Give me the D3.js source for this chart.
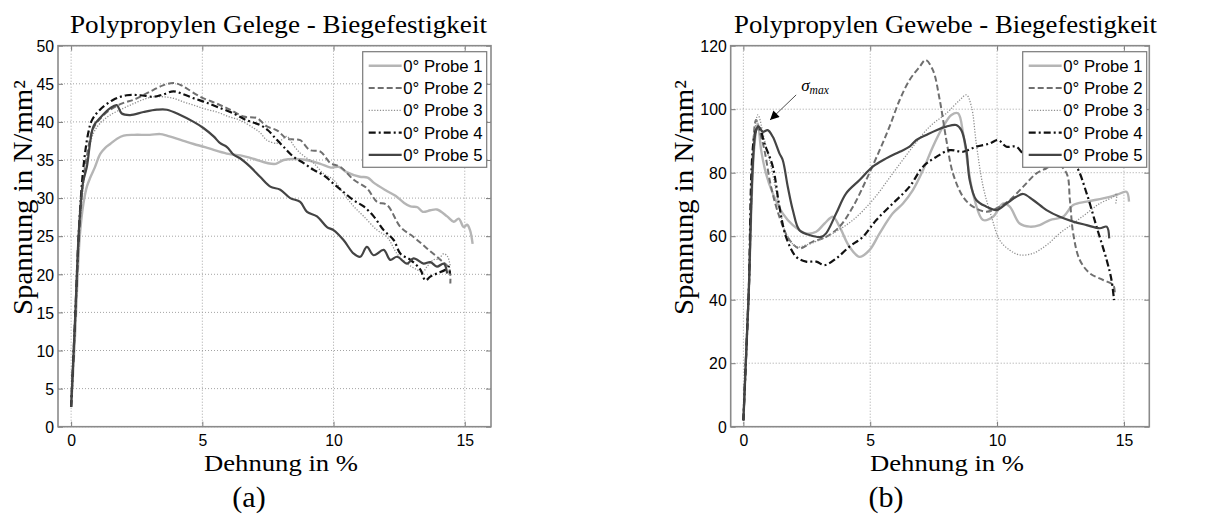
<!DOCTYPE html>
<html><head><meta charset="utf-8">
<script src="https://cdn.jsdelivr.net/npm/d3@7"></script>
<style>body{margin:0;background:#fff}svg{display:block}</style>
</head><body>
<svg id="c" width="1206" height="531"></svg>
<script>
// ---------- data ----------
const xTicks = [0, 5, 10, 15];
const yTicksA = [0, 5, 10, 15, 20, 25, 30, 35, 40, 45, 50];
const yTicksB = [0, 20, 40, 60, 80, 100, 120];
const seriesNames = ["0° Probe 1", "0° Probe 2", "0° Probe 3", "0° Probe 4", "0° Probe 5"];
const titleA = "Polypropylen Gelege - Biegefestigkeit";
const titleB = "Polypropylen Gewebe - Biegefestigkeit";
const xLabel = "Dehnung in %";
const yLabel = "Spannung in N/mm²";
const captions = ["(a)", "(b)"];

const gelege1 = [[0,2.6],[0.15,12],[0.25,20],[0.34,25.4],[0.47,29.3],[0.6,31.5],[0.73,32.7],[0.9,34],[1.11,35.8],[1.3,36.6],[1.49,37.1],[1.75,37.8],[2.0,38.2],[2.4,38.3],[3.0,38.3],[3.4,38.4],[3.65,38.2],[4.2,37.6],[4.67,37.1],[5.1,36.7],[5.56,36.2],[6.0,35.8],[6.45,35.6],[7.0,35.1],[7.47,34.6],[7.8,34.5],[8.1,35.0],[8.74,35.1],[9.1,34.9],[9.5,34.5],[9.9,34.0],[10.2,34.1],[10.5,33.4],[11.0,32.8],[11.3,32.7],[11.54,32.0],[12.0,31.0],[12.36,30.3],[12.68,29.4],[12.93,28.9],[13.2,28.8],[13.4,28.2],[13.69,28.4],[13.94,28.5],[14.33,27.6],[14.58,26.9],[14.77,27.3],[14.96,26.2],[15.09,26.5],[15.2,25.8],[15.3,24.0]];
const gelege2 = [[0,2.6],[0.15,14],[0.3,25],[0.45,32],[0.6,35.5],[0.8,38.8],[1.0,40.0],[1.49,41.6],[2.0,42.5],[2.38,42.9],[2.8,43.6],[3.14,44.2],[3.5,44.8],[3.9,45.1],[4.2,44.8],[4.4,44.4],[4.92,43.3],[5.55,42.4],[6.06,41.6],[6.57,40.7],[7.08,40.5],[7.46,39.4],[7.84,38.9],[8.22,37.8],[8.5,37.7],[8.73,37.6],[9.1,36.3],[9.5,36.1],[9.88,34.6],[10.26,34.1],[10.77,32.4],[11.27,31.3],[11.66,29.5],[12.04,29.1],[12.55,26.2],[13.05,24.9],[13.56,23.4],[14.07,21.9],[14.4,20.8],[14.45,18.8]];
const gelege3 = [[0,2.6],[0.15,13],[0.3,24],[0.45,31],[0.6,35],[0.85,38.5],[1.1,39.8],[1.49,40.9],[2.0,41.8],[2.38,42.4],[2.8,43.0],[3.14,43.3],[3.5,43.3],[3.9,43.1],[4.3,42.6],[4.67,42.2],[5.1,41.7],[5.55,41.3],[6.0,40.7],[6.45,40.2],[6.95,39.2],[7.2,38.6],[7.46,37.6],[7.84,37.2],[8.0,37.6],[8.22,38.1],[8.5,36.8],[8.73,35.9],[9.0,35.2],[9.24,34.6],[9.62,33.2],[10.0,32.4],[10.38,30.6],[10.77,28.9],[11.15,27.6],[11.66,25.8],[12.04,24.9],[12.42,22.7],[12.8,21.4],[13.18,20.6],[13.4,20.3],[13.56,21.0],[13.81,21.9],[14.0,22.0],[14.2,22.7],[14.35,22.3],[14.45,21.0]];
const gelege4 = [[0,2.6],[0.15,14],[0.3,26],[0.47,34.1],[0.65,38.5],[0.79,40.2],[1.1,41.6],[1.61,42.9],[2.12,43.5],[2.63,43.5],[3.14,43.3],[3.5,43.6],[3.9,44.0],[4.3,43.6],[4.67,43.1],[5.1,42.6],[5.55,42.0],[6.19,41.1],[6.7,40.2],[7.2,39.6],[7.5,38.9],[7.72,38.1],[8.1,36.7],[8.48,35.4],[8.86,34.6],[9.24,33.7],[9.62,33.0],[10.0,31.9],[10.38,30.8],[10.77,29.7],[11.15,28.9],[11.53,27.6],[11.91,25.8],[12.29,24.5],[12.55,22.7],[12.93,21.9],[13.31,20.6],[13.5,19.2],[13.69,19.7],[13.94,20.1],[14.26,20.6],[14.39,21.0],[14.43,20.1]];
const gelege5 = [[0,2.6],[0.15,14],[0.3,26],[0.45,32],[0.6,34.1],[0.85,39.4],[1.1,40.5],[1.49,41.8],[1.74,42.2],[1.93,41.1],[2.25,40.9],[2.76,41.3],[3.27,41.6],[3.65,41.6],[4.16,40.9],[4.67,40.0],[5.04,39.2],[5.43,38.1],[5.68,37.2],[5.94,36.7],[6.19,35.7],[6.45,35.2],[6.83,34.1],[7.2,32.8],[7.59,31.5],[7.97,31.1],[8.35,30.0],[8.73,29.5],[8.99,28.2],[9.37,27.6],[9.75,26.2],[10.0,25.8],[10.38,24.5],[10.77,22.7],[11.02,22.3],[11.27,23.6],[11.53,22.5],[11.91,23.2],[12.16,21.9],[12.42,22.3],[12.8,21.4],[13.05,22.1],[13.43,21.4],[13.69,21.6],[13.94,21.0],[14.2,21.4],[14.33,20.1]];

const gewebe1 = [[0,2],[0.2,40],[0.43,88.2],[0.57,95.5],[0.7,87.1],[0.89,79.8],[1.16,73.5],[1.55,67.2],[1.95,63.5],[2.47,60.9],[2.87,61.4],[3.2,64.0],[3.53,66.1],[3.79,63.0],[4.18,56.7],[4.58,53.5],[4.97,55.6],[5.37,60.9],[5.89,67.2],[6.29,70.3],[6.68,74.5],[7.08,80.8],[7.47,88.2],[7.87,94.5],[8.2,98.2],[8.46,98.7],[8.66,92.4],[8.86,81.9],[9.05,73.5],[9.45,65.1],[9.84,66.1],[10.24,70.3],[10.5,69.3],[10.89,64.0],[11.29,63.0],[11.68,63.5],[12.08,65.1],[12.6,66.1],[13.0,69.8],[13.53,70.9],[14.18,71.9],[14.71,73.0],[15.1,74.0],[15.2,70.9]];
const gewebe2 = [[0,2],[0.2,40],[0.5,96.6],[0.63,93.4],[0.83,87.1],[1.09,75.6],[1.42,66.1],[1.82,58.8],[2.21,56.2],[2.74,58.3],[3.26,59.8],[3.79,63.0],[4.32,69.3],[4.84,77.7],[5.37,87.1],[5.76,94.5],[6.16,102.9],[6.55,109.2],[6.95,113.4],[7.18,115.5],[7.47,112.3],[7.74,102.9],[8.0,90.3],[8.26,79.8],[8.66,72.4],[9.05,69.3],[9.58,67.7],[10.1,69.3],[10.5,71.4],[11.03,75.6],[11.55,79.8],[11.95,81.4],[12.34,82.9],[12.74,79.8],[12.87,71.4],[13.0,60.9],[13.26,52.5],[13.66,48.3],[14.18,46.2],[14.58,44.6],[14.64,42.0]];
const gewebe3 = [[0,2],[0.2,40],[0.57,98.2],[0.83,90.3],[1.09,81.9],[1.42,69.3],[1.68,60.9],[2.08,56.7],[2.47,57.2],[3.0,58.8],[3.53,60.9],[4.32,65.1],[5.1,71.4],[5.89,79.8],[6.68,88.2],[7.34,94.5],[8.0,98.7],[8.53,102.9],[8.79,104.5],[8.99,100.8],[9.18,89.2],[9.45,75.6],[9.78,66.1],[10.1,58.8],[10.5,55.6],[10.89,54.1],[11.42,54.6],[11.95,57.2],[12.47,60.9],[13.0,64.0],[13.53,67.2],[14.05,70.3],[14.58,72.4],[14.71,73.5],[14.68,70.3]];
const gewebe4 = [[0,2],[0.2,40],[0.5,93.4],[0.63,94.0],[0.83,89.2],[1.16,81.9],[1.42,69.3],[1.68,59.8],[2.08,53.5],[2.47,52.0],[2.87,52.0],[3.2,50.9],[3.66,53.0],[4.18,56.7],[4.71,59.8],[5.24,65.1],[5.89,70.3],[6.55,75.6],[7.08,81.9],[7.61,85.0],[8.13,87.1],[8.66,86.6],[9.18,88.2],[9.71,89.2],[10.04,90.3],[10.37,88.2],[10.76,88.2],[11.03,86.1],[11.68,85.0],[12.34,86.1],[12.74,85.0],[13.13,81.9],[13.53,73.5],[13.92,63.0],[14.32,52.5],[14.51,46.2],[14.61,39.9]];
const gewebe5 = [[0,2],[0.2,40],[0.5,93.4],[0.6,94.5],[0.76,92.9],[0.96,93.4],[1.16,91.3],[1.42,86.1],[1.55,84.0],[1.75,75.6],[1.95,68.2],[2.21,61.9],[2.6,60.4],[3.07,59.8],[3.26,60.9],[3.66,67.2],[4.05,73.5],[4.58,77.7],[5.1,81.9],[5.63,84.5],[6.16,86.6],[6.55,88.2],[6.82,90.3],[7.21,91.9],[7.61,93.4],[8.0,94.5],[8.39,95.0],[8.59,93.4],[8.79,87.1],[8.92,77.7],[9.18,71.4],[9.58,69.3],[9.97,68.2],[10.37,70.3],[10.76,72.4],[11.03,73.3],[11.42,71.4],[11.95,68.2],[12.47,66.1],[13.0,64.6],[13.53,63.5],[14.05,62.5],[14.32,63.0],[14.42,59.3]];

const sigmaArrow = [[2.08, 104.5], [1.05, 96.6]];
const sigmaLabelAt = [2.28, 105.6];

// ---------- styles ----------
const styles = [
  {color: "#b5b5b5", w: 2.4, dash: null},
  {color: "#6f6f6f", w: 2.0, dash: "6,3"},
  {color: "#8e8e8e", w: 1.3, dash: "1.2,1.6"},
  {color: "#111111", w: 2.2, dash: "7,3,2,3"},
  {color: "#444444", w: 2.2, dash: null}
];
const SERIF = "'Liberation Serif', 'Times New Roman', serif";
const SANS = "'Liberation Sans', Arial, sans-serif";

const svg = d3.select("#c");
svg.append("defs").append("marker")
  .attr("id", "arr").attr("viewBox", "0 0 10 10").attr("refX", 10).attr("refY", 5)
  .attr("markerWidth", 12).attr("markerHeight", 9).attr("markerUnits", "userSpaceOnUse")
  .attr("orient", "auto")
  .append("path").attr("d", "M0,0 L10,5 L0,10 z").attr("fill", "#000");

function panel(o) {
  const x = d3.scaleLinear().domain([-0.5, 16]).range(o.xr);
  const y = d3.scaleLinear().domain(o.yDomain).range([426.7, 45.7]);
  const g = svg.append("g");
  const [x0, x1] = o.xr, y0 = 426.7, y1 = 45.7;

  // grid
  g.append("g").selectAll("line").data(xTicks).join("line")
    .attr("x1", d => x(d)).attr("x2", d => x(d)).attr("y1", y0).attr("y2", y1)
    .attr("stroke", "#9a9a9a").attr("stroke-width", 0.9).attr("stroke-dasharray", "1,2");
  g.append("g").selectAll("line").data(o.yTicks).join("line")
    .attr("x1", x0).attr("x2", x1).attr("y1", d => y(d)).attr("y2", d => y(d))
    .attr("stroke", "#9a9a9a").attr("stroke-width", 0.9).attr("stroke-dasharray", "1,2");

  // series
  const line = d3.line().x(d => x(d[0])).y(d => y(d[1])).curve(d3.curveCatmullRom.alpha(0.5));
  o.series.forEach((s, i) => {
    g.append("path").datum(s).attr("d", line).attr("fill", "none")
      .attr("stroke", styles[i].color).attr("stroke-width", styles[i].w)
      .attr("stroke-dasharray", styles[i].dash).attr("stroke-linejoin", "round");
  });

  // axes (ticks inward on all sides)
  const ax = (gen, tr) => {
    const a = g.append("g").attr("transform", tr).call(gen);
    a.select(".domain").remove();
    a.selectAll(".tick line").attr("stroke", "#7a7a7a").attr("stroke-width", 1);
    return a;
  };
  const bx = ax(d3.axisBottom(x).tickValues(xTicks).tickSizeInner(-5).tickSizeOuter(0), `translate(0,${y0})`);
  bx.selectAll("text").attr("y", 19.5).attr("dy", 0).attr("font-family", SANS).attr("font-size", 15.8).attr("fill", "#000");
  ax(d3.axisTop(x).tickValues(xTicks).tickSizeInner(-5).tickSizeOuter(0).tickFormat(""), `translate(0,${y1})`);
  const ly = ax(d3.axisLeft(y).tickValues(o.yTicks).tickSizeInner(-5).tickSizeOuter(0), `translate(${x0},0)`);
  ly.selectAll("text").attr("x", -4).attr("dy", "0.36em").attr("font-family", SANS).attr("font-size", 15.8).attr("fill", "#000");
  ax(d3.axisRight(y).tickValues(o.yTicks).tickSizeInner(-5).tickSizeOuter(0).tickFormat(""), `translate(${x1},0)`);
  g.append("rect").attr("x", x0).attr("y", y1).attr("width", x1 - x0).attr("height", y0 - y1)
    .attr("fill", "none").attr("stroke", "#8a8a8a").attr("stroke-width", 1.6);

  // legend
  const lg = g.append("g").attr("transform", `translate(${o.legendX},51.7)`);
  lg.append("rect").attr("width", 124).attr("height", 115.6).attr("fill", "#fff")
    .attr("stroke", "#7a7a7a").attr("stroke-width", 1.2);
  seriesNames.forEach((n, i) => {
    const yy = 14 + i * 22.3;
    lg.append("line").attr("x1", 6).attr("x2", 39).attr("y1", yy).attr("y2", yy)
      .attr("stroke", styles[i].color).attr("stroke-width", styles[i].w).attr("stroke-dasharray", styles[i].dash);
    lg.append("text").attr("x", 40.5).attr("y", yy + 6).text(n)
      .attr("font-family", SANS).attr("font-size", 16.8).attr("fill", "#000");
  });

  // titles and labels
  g.append("text").attr("x", o.titleX).attr("y", 33.3).attr("text-anchor", "middle")
    .attr("font-family", SERIF).attr("font-size", 25.5).attr("textLength", o.titleW)
    .attr("lengthAdjust", "spacingAndGlyphs").text(o.title);
  g.append("text").attr("x", o.xlabelX).attr("y", 471).attr("text-anchor", "middle")
    .attr("font-family", SERIF).attr("font-size", 24).attr("textLength", 154)
    .attr("lengthAdjust", "spacingAndGlyphs").text(xLabel);
  g.append("text").attr("transform", `translate(${o.ylabelX},197.5) rotate(-90)`).attr("text-anchor", "middle")
    .attr("font-family", SERIF).attr("font-size", 27).attr("textLength", 235)
    .attr("lengthAdjust", "spacingAndGlyphs").text(yLabel);
  g.append("text").attr("x", o.captionX).attr("y", 507).attr("text-anchor", "middle")
    .attr("font-family", SERIF).attr("font-size", 30).text(o.caption);
  return {g, x, y};
}

panel({xr: [58, 491], yDomain: [0, 50], yTicks: yTicksA,
  series: [gelege1, gelege2, gelege3, gelege4, gelege5], title: titleA, titleX: 278.5, titleW: 417,
  legendX: 362.7, xlabelX: 281, ylabelX: 32, caption: captions[0], captionX: 249});

const pB = panel({xr: [730.7, 1149.3], yDomain: [0, 120], yTicks: yTicksB,
  series: [gewebe1, gewebe2, gewebe3, gewebe4, gewebe5], title: titleB, titleX: 945.5, titleW: 423,
  legendX: 1022.7, xlabelX: 947, ylabelX: 693, caption: captions[1], captionX: 886});

// sigma max annotation
pB.g.append("line")
  .attr("x1", pB.x(sigmaArrow[0][0])).attr("y1", pB.y(sigmaArrow[0][1]))
  .attr("x2", pB.x(sigmaArrow[1][0])).attr("y2", pB.y(sigmaArrow[1][1]))
  .attr("stroke", "#222").attr("stroke-width", 0.8).attr("marker-end", "url(#arr)");
const st = pB.g.append("text").attr("x", pB.x(sigmaLabelAt[0])).attr("y", pB.y(sigmaLabelAt[1]))
  .attr("font-family", SERIF).attr("font-style", "italic").attr("font-size", 17);
st.append("tspan").text("σ");
st.append("tspan").attr("dy", 3).attr("font-size", 11.5).text("max");
</script>
</body></html>
